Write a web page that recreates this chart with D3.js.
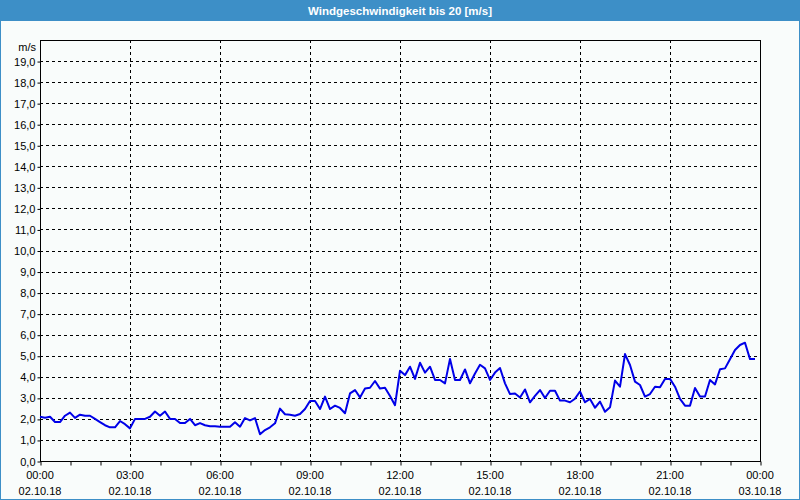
<!DOCTYPE html>
<html><head><meta charset="utf-8">
<script src="https://cdn.jsdelivr.net/npm/d3@7"></script>
<style>html,body{margin:0;padding:0;background:#fff}svg{display:block}</style>
</head><body>
<script>
const title = "Windgeschwindigkeit bis 20 [m/s]";
const unitLabel = "m/s";
const startTime = "2018-10-02T00:00:00";
const endTime = "2018-10-03T00:00:00";
const stepMinutes = 10;
const windSpeed = [
  2.1, 2.05, 2.1, 1.85, 1.85, 2.15, 2.3, 2.05, 2.2, 2.15, 2.15, 2.0,
  1.85, 1.7, 1.6, 1.6, 1.9, 1.75, 1.55, 2.0, 2.0, 2.0, 2.1, 2.35,
  2.15, 2.35, 2.0, 2.0, 1.8, 1.8, 2.0, 1.7, 1.8, 1.7, 1.65, 1.65,
  1.63, 1.63, 1.63, 1.84, 1.63, 2.04, 1.93, 2.04, 1.27, 1.47, 1.6, 1.79,
  2.49, 2.22, 2.2, 2.15, 2.23, 2.47, 2.85, 2.85, 2.47, 3.06, 2.47, 2.63,
  2.52, 2.27, 3.21, 3.37, 3.02, 3.44, 3.48, 3.8, 3.44, 3.48, 3.09, 2.65,
  4.29, 4.08, 4.48, 3.9, 4.67, 4.2, 4.48, 3.85, 3.85, 3.69, 4.85, 3.85,
  3.85, 4.35, 3.69, 4.16, 4.57, 4.4, 3.85, 4.2, 4.42, 3.69, 3.18, 3.21,
  3.02, 3.4, 2.79, 3.09, 3.37, 2.99, 3.34, 3.34, 2.87, 2.87, 2.79, 2.96,
  3.3, 2.79, 2.95, 2.53, 2.82, 2.34, 2.55, 3.82, 3.53, 5.08, 4.56, 3.77,
  3.61, 3.06, 3.18, 3.53, 3.5, 3.9, 3.9, 3.53, 2.95, 2.63, 2.63, 3.47,
  3.06, 3.06, 3.85, 3.64, 4.36, 4.4, 4.83, 5.27, 5.51, 5.62, 4.84, 4.84
];
const yTicks = d3.range(0, 20, 1);

const W = 800, H = 500;
const m = {left: 40, right: 40, top: 40, bottom: 39};
const svg = d3.select("body").append("svg").attr("width", W).attr("height", H);

svg.append("rect").attr("x",0).attr("y",0).attr("width",W).attr("height",H).attr("fill","#3d8fc7");
svg.append("rect").attr("x",1).attr("y",21).attr("width",W-2).attr("height",H-22).attr("fill","#f9fcfb");
svg.append("text").attr("x",W/2).attr("y",14.5).attr("text-anchor","middle")
  .attr("font-family","Liberation Sans").attr("font-size",11.5).attr("font-weight","bold")
  .attr("fill","#fff").text(title);

const t0 = new Date(startTime), t1 = new Date(endTime);
const x = d3.scaleTime().domain([t0, t1]).range([m.left, W - m.right]);
const y = d3.scaleLinear().domain([0, 20]).range([H - m.bottom, m.top]);
const data = windSpeed.map((v, i) => ({t: new Date(t0.getTime() + i*stepMinutes*60000), v}));

const font = "Liberation Sans";
const g = svg.append("g");

g.selectAll(".hg").data(yTicks.slice(1)).enter().append("line")
  .attr("x1", m.left).attr("x2", W - m.right)
  .attr("y1", d => Math.round(y(d)) + 0.5).attr("y2", d => Math.round(y(d)) + 0.5)
  .attr("stroke","#000").attr("stroke-dasharray","3,3");
const major = d3.timeHour.every(3).range(t0, new Date(t1.getTime()+1));
g.selectAll(".vg").data(major.slice(1, -1)).enter().append("line")
  .attr("y1", m.top).attr("y2", H - m.bottom)
  .attr("x1", d => Math.round(x(d)) + 0.5).attr("x2", d => Math.round(x(d)) + 0.5)
  .attr("stroke","#000").attr("stroke-dasharray","3,3");

const yAxis = d3.axisLeft(y).tickValues(yTicks).tickSize(3).tickPadding(2)
  .tickFormat(d => d3.format(".1f")(d).replace(".", ","));
const ya = svg.append("g").attr("transform", `translate(${m.left+0.5},0.5)`).call(yAxis);
ya.select(".domain").remove();
ya.selectAll("text").attr("font-family", font).attr("font-size", 11).attr("fill","#000");
svg.append("text").attr("x", 36).attr("y", 51).attr("text-anchor","end")
  .attr("font-family", font).attr("font-size", 11).text(unitLabel);

const xAxis = d3.axisBottom(x).ticks(d3.timeHour.every(1)).tickSize(4).tickFormat("");
const xa = svg.append("g").attr("transform", `translate(0.5,${H - m.bottom + 0.5})`).call(xAxis);
xa.select(".domain").remove();
const lab = svg.append("g").selectAll("g").data(major).enter().append("g")
  .attr("transform", d => `translate(${x(d)},0)`);
lab.append("text").attr("y", 479).attr("text-anchor","middle")
  .attr("font-family", font).attr("font-size", 11).text(d3.timeFormat("%H:%M"));
lab.append("text").attr("y", 495).attr("text-anchor","middle")
  .attr("font-family", font).attr("font-size", 11).text(d3.timeFormat("%d.%m.%y"));

svg.append("rect").attr("x", m.left + 0.5).attr("y", m.top + 0.5)
  .attr("width", W - m.left - m.right).attr("height", H - m.top - m.bottom)
  .attr("fill","none").attr("stroke","#000");

svg.append("path").datum(data)
  .attr("d", d3.line().x(d => x(d.t)).y(d => y(d.v)))
  .attr("fill","none").attr("stroke","#0000e8").attr("stroke-width",2).attr("stroke-linejoin","round");
</script>
</body></html>
